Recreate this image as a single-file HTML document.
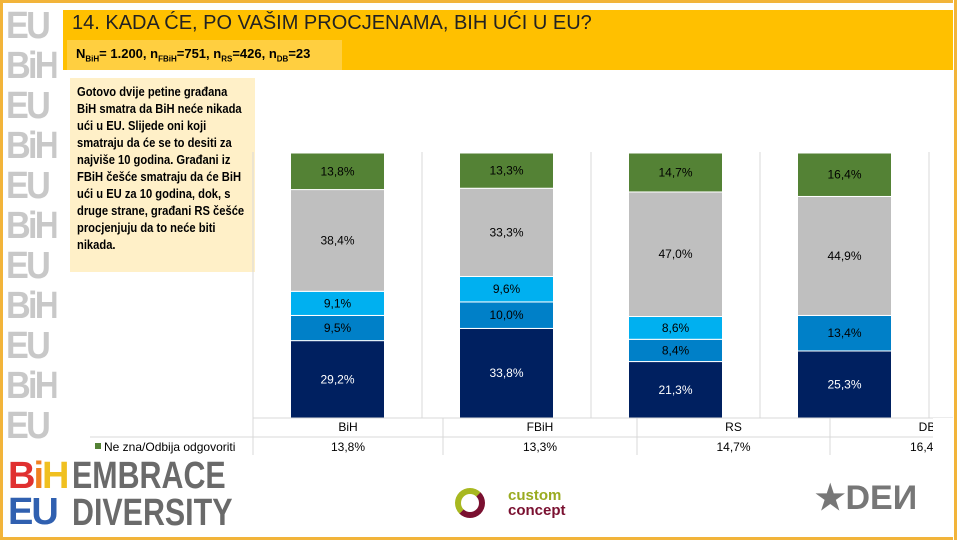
<!DOCTYPE html>
<html><head><meta charset="utf-8"><style>
body{margin:0;width:960px;height:540px;overflow:hidden;background:#fff;font-family:"Liberation Sans",sans-serif;position:relative}
.abs{position:absolute}
.frame{left:0;top:0;width:954px;height:534px;border:3px solid #F2B43A}
.side{left:6px;top:6px;width:56px;height:442px;overflow:hidden;font:bold 38px "Liberation Sans",sans-serif;color:#c8c8c8;letter-spacing:-3px;line-height:40px;transform:scaleX(0.9);transform-origin:left}
</style></head><body>
<div class="abs frame"></div>
<div class="abs side">EU<br>BiH<br>EU<br>BiH<br>EU<br>BiH<br>EU<br>BiH<br>EU<br>BiH<br>EU</div>
<div class="abs" style="left:63px;top:10px;width:892px;height:60px;background:#FFC000"></div>
<div class="abs" style="left:72px;top:12px;font-size:20px;color:#222">14. KADA ĆE, PO VAŠIM PROCJENAMA, BIH UĆI U EU?</div>
<div class="abs" style="left:67px;top:40px;width:275px;height:30px;background:#FFCF40;font-size:13px;font-weight:bold;line-height:28px;padding-left:9px;box-sizing:border-box">N<sub style="font-size:8px">BiH</sub>= 1.200, n<sub style="font-size:8px">FBiH</sub>=751, n<sub style="font-size:8px">RS</sub>=426, n<sub style="font-size:8px">DB</sub>=23</div>
<div class="abs" style="left:70px;top:78px;width:185px;height:194px;background:#FFF0C8;box-sizing:border-box;padding:5px 7px"><div style="font:bold 13px 'Liberation Sans',sans-serif;line-height:17px;width:199px;transform:scaleX(0.86);transform-origin:left">Gotovo dvije petine građana BiH smatra da BiH neće nikada ući u EU. Slijede oni koji smatraju da će se to desiti za najviše 10 godina. Građani iz FBiH češće smatraju da će BiH ući u EU za 10 godina, dok, s druge strane, građani RS češće procjenjuju da to neće biti nikada.</div></div>
<div id="chart" class="abs" style="left:0;top:0;width:960px;height:540px"></div>
<div class="abs" style="left:8px;top:458px;font:bold 38px 'Liberation Sans',sans-serif;line-height:36px;letter-spacing:-2px"><span style="color:#e03030">B</span><span style="color:#f08020">i</span><span style="color:#f0c020">H</span><br><span style="color:#3060b0">EU</span></div>
<div class="abs" style="left:72px;top:458px;font:bold 38px 'Liberation Sans',sans-serif;color:#6a6a6a;line-height:37px;transform:scaleX(0.8);transform-origin:left">EMBRACE<br>DIVERSITY</div>
<div class="abs" style="left:455px;top:488px;width:30px;height:30px;border:6px solid #a8b820;border-radius:50%;box-sizing:border-box;border-right-color:#7a1030;border-bottom-color:#7a1030"></div>
<div class="abs" style="left:508px;top:488px;font:bold 15px 'Liberation Sans Narrow',sans-serif;line-height:15px;color:#9aab20">custom<br><span style="color:#7a1030">concept</span></div>
<div class="abs" style="left:815px;top:478px;font:bold 34px 'Liberation Sans',sans-serif;color:#777">★DEИ</div>
<script>
const categories=["BiH","FBiH","RS","DB"];
const sNavy=[29.2,33.8,21.3,25.3];
const sMid=[9.5,10.0,8.4,13.4];
const sLight=[9.1,9.6,8.6,0];
const sGray=[38.4,33.3,47.0,44.9];
const sGreen=[13.8,13.3,14.7,16.4];
const tableRow=["13,8%","13,3%","14,7%","16,4%"];
const series=[[sNavy,"#002060","#fff"],[sMid,"#0080C8","#000"],[sLight,"#00B0F0","#000"],[sGray,"#BFBFBF","#000"],[sGreen,"#548235","#000"]];
const NS="http://www.w3.org/2000/svg";
const svg=document.createElementNS(NS,"svg");
svg.setAttribute("width","960");svg.setAttribute("height","540");


document.getElementById("chart").appendChild(svg);
const x0=253,cw=169,bw=94,yB=418,ph=265;
const xc=i=>x0+cw*i+cw/2;
const y=v=>yB-v/100*ph;
function add(t,a){const e=document.createElementNS(NS,t);for(const k in a)e.setAttribute(k,a[k]);svg.appendChild(e);return e;}
for(let i=0;i<=4;i++){const g=add("line",{x1:x0+cw*i,x2:x0+cw*i,y1:152,y2:yB,stroke:"#d9d9d9"});

}
categories.forEach((c,i)=>{let cum=0;
series.forEach(([arr,col,tc])=>{const v=arr[i];if(v>0){
const r=add("rect",{x:xc(i)-bw/2,y:y(cum+v),width:bw,height:v/100*ph,fill:col,stroke:"#fff","stroke-width":1});


const t=add("text",{x:xc(i),y:y(cum+v/2)+4,"text-anchor":"middle","font-size":12,fill:tc,"font-family":"Liberation Sans Narrow, Liberation Sans, sans-serif"});
t.textContent=v.toFixed(1).replace(".",",")+"%";

}
cum+=v;});});
add("line",{x1:x0,x2:960,y1:yB,y2:yB,stroke:"#d9d9d9"});
const cols=[253,443,637,830,1024];
add("line",{x1:90,x2:960,y1:437,y2:437,stroke:"#d9d9d9"});
for(let j=0;j<4;j++){
add("line",{x1:cols[j],x2:cols[j],y1:yB,y2:455,stroke:"#d9d9d9"});
const cx=(cols[j]+cols[j+1])/2;
const h=add("text",{x:cx,y:431,"text-anchor":"middle","font-size":12,"font-family":"Liberation Sans Narrow, Liberation Sans, sans-serif"});
h.textContent=categories[j];


const d=add("text",{x:cx,y:451,"text-anchor":"middle","font-size":12,"font-family":"Liberation Sans Narrow, Liberation Sans, sans-serif"});
d.textContent=tableRow[j];

}
const lk=add("rect",{x:95,y:443,width:6,height:6,fill:"#548235"});


const lt=add("text",{x:104,y:451,"font-size":12,"font-family":"Liberation Sans Narrow, Liberation Sans, sans-serif"});
lt.textContent="Ne zna/Odbija odgovoriti";


const rb=add("rect",{x:933,y:418,width:27,height:40,fill:"#fff"});


const rb2=add("rect",{x:953,y:0,width:7,height:540,fill:"#fff"});


const rl=add("rect",{x:954,y:0,width:3,height:540,fill:"#F2B43A"});


</script>
</body></html>
